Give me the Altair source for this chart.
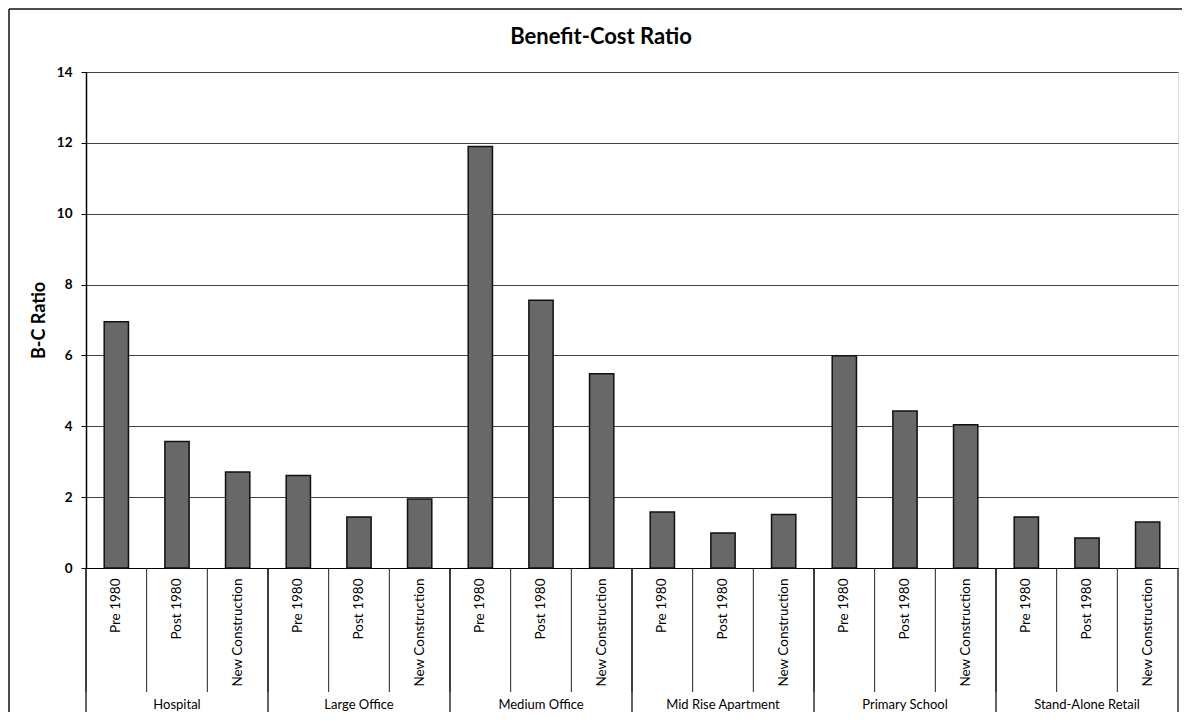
import altair as alt
import pandas as pd

# ---- data ----
groups = ["Hospital", "Large Office", "Medium Office",
          "Mid Rise Apartment", "Primary School", "Stand-Alone Retail"]
subs = ["Pre 1980", "Post 1980", "New Construction"]

hospital = [6.95, 3.57, 2.71]
large_office = [2.61, 1.44, 1.95]
medium_office = [11.90, 7.56, 5.48]
mid_rise_apartment = [1.58, 0.99, 1.51]
primary_school = [5.99, 4.43, 4.04]
stand_alone_retail = [1.44, 0.85, 1.30]

y_ticks = [0, 2, 4, 6, 8, 10, 12, 14]
chart_title = "Benefit-Cost Ratio"
y_title = "B-C Ratio"

series = [hospital, large_office, medium_office,
          mid_rise_apartment, primary_school, stand_alone_retail]

rows = []
for g, vals in zip(groups, series):
    for s, v in zip(subs, vals):
        rows.append({"key": f"{g}|{s}", "group": g, "sub": s,
                     "ratio": v, "first": s == subs[0]})
df = pd.DataFrame(rows)
keys = list(df["key"])

W, H = 1092, 496
FONT = "Lato"

xscale = alt.Scale(domain=keys, paddingInner=0, paddingOuter=0)
yscale = alt.Scale(domain=[0, 14], nice=False)

bars = alt.Chart(df).mark_bar(
    width=alt.RelativeBandSize(0.4), color="#686868",
    stroke="#111", strokeWidth=1.5
).encode(
    x=alt.X("key:N", scale=xscale, sort=keys, title=None,
            axis=alt.Axis(labelExpr="split(datum.value, '|')[1]",
                          labelAngle=-90, labelAlign="right",
                          labelBaseline="middle", ticks=False,
                          labelPadding=10, domainColor="black",
                          domainWidth=1.2, labelFontSize=13.5,
                          labelColor="black", labelFont=FONT, grid=False)),
    y=alt.Y("ratio:Q", scale=yscale,
            axis=alt.Axis(values=y_ticks, title=y_title, grid=True,
                          gridColor="#444", gridWidth=1,
                          domainColor="black", domainWidth=1.5,
                          tickColor="black", tickSize=5,
                          labelPadding=9, labelFontSize=13.5,
                          labelFontWeight="bold", labelColor="black",
                          labelFont=FONT, titleFont=FONT,
                          titleFontSize=18, titleFontWeight="bold",
                          titleColor="black", titlePadding=8)),
)

# separators below the x axis
sub_sep = alt.Chart(df).mark_rule(color="#222", strokeWidth=1).encode(
    x=alt.X("key:N", scale=xscale, sort=keys, bandPosition=0),
    y=alt.value(H), y2=alt.value(H + 124),
)
grp_sep = alt.Chart(df[df["first"]]).mark_rule(color="#111", strokeWidth=1.3).encode(
    x=alt.X("key:N", scale=xscale, sort=keys, bandPosition=0),
    y=alt.value(H), y2=alt.value(H + 146),
)
end_sep = alt.Chart(df.tail(1)).mark_rule(color="#111", strokeWidth=1.3).encode(
    x=alt.X("key:N", scale=xscale, sort=keys, bandPosition=1),
    y=alt.value(H), y2=alt.value(H + 146),
)

group_labels = alt.Chart(df[df["sub"] == subs[1]]).mark_text(
    font=FONT, fontSize=13, color="black", baseline="middle"
).encode(
    x=alt.X("key:N", scale=xscale, sort=keys),
    y=alt.value(H + 137),
    text="group:N",
)

title = alt.Chart(pd.DataFrame({"t": [chart_title]})).mark_text(
    font=FONT, fontSize=22, fontWeight="bold", color="black",
    baseline="alphabetic", align="center"
).encode(x=alt.value(515), y=alt.value(-28), text="t:N")

frame_df = pd.DataFrame({"a": [0]})
frame_left = alt.Chart(frame_df).mark_rule(color="#111", strokeWidth=1.5).encode(
    x=alt.value(-77), y=alt.value(-63), y2=alt.value(H + 146))
frame_top = alt.Chart(frame_df).mark_rule(color="#111", strokeWidth=1.5).encode(
    x=alt.value(-77), x2=alt.value(W + 4), y=alt.value(-63))

chart = alt.layer(
    bars, sub_sep, grp_sep, end_sep, group_labels, title, frame_left, frame_top
).properties(
    width=W, height=H,
    autosize=alt.AutoSizeParams(type="none"),
    padding={"left": 78, "top": 64, "right": 4, "bottom": 144},
).configure_view(stroke=None).configure(background="white")

chart.save("out.html", embed_options={"renderer": "svg", "actions": False})
